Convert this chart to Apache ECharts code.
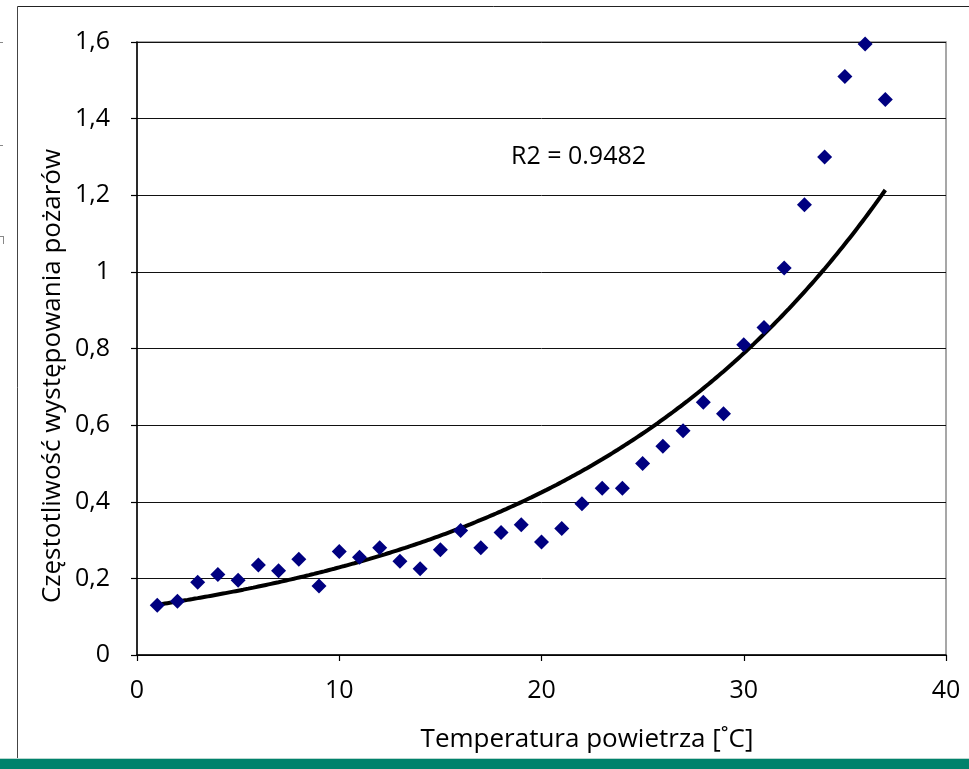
<!DOCTYPE html>
<html>
<head>
<meta charset="utf-8">
<script src="https://cdn.jsdelivr.net/npm/echarts@6/dist/echarts.min.js"></script>
<style>
  html, body { margin: 0; padding: 0; background: #fff; }
  #chart { width: 969px; height: 769px; }
</style>
</head>
<body>
<div id="chart"></div>
<script>
// Air temperature [°C] and fire occurrence frequency
const temperatures = [1, 2, 3, 4, 5, 6, 7, 8, 9, 10, 11, 12, 13, 14, 15, 16, 17, 18, 19,
  20, 21, 22, 23, 24, 25, 26, 27, 28, 29, 30, 31, 32, 33, 34, 35, 36, 37];
const frequencies = [0.13, 0.14, 0.19, 0.21, 0.195, 0.235, 0.22, 0.25, 0.18, 0.27, 0.255,
  0.28, 0.245, 0.225, 0.275, 0.325, 0.28, 0.32, 0.34, 0.295, 0.33, 0.395, 0.435, 0.435,
  0.50, 0.545, 0.585, 0.66, 0.63, 0.81, 0.855, 1.01, 1.175, 1.30, 1.51, 1.595, 1.45];
const yTicks = [0, 0.2, 0.4, 0.6, 0.8, 1, 1.2, 1.4, 1.6];
const xTicks = [0, 10, 20, 30, 40];
const r2Label = 'R2 = 0.9482';
const xTitle = 'Temperatura powietrza [˚C]';
const yTitle = 'Częstotliwość występowania pożarów';

// Exponential trend y = a * e^(b x), fitted by least squares on ln(y)
function expFit(xs, ys) {
  const n = xs.length;
  let sx = 0, sy = 0, sxx = 0, sxy = 0;
  for (let i = 0; i < n; i++) {
    const ly = Math.log(ys[i]);
    sx += xs[i]; sy += ly; sxx += xs[i] * xs[i]; sxy += xs[i] * ly;
  }
  const b = (n * sxy - sx * sy) / (n * sxx - sx * sx);
  const a = Math.exp((sy - b * sx) / n);
  return { a, b };
}
const fit = expFit(temperatures, frequencies);
const trend = [];
const x0 = temperatures[0], x1 = temperatures[temperatures.length - 1];
for (let x = x0; x <= x1 + 1e-9; x += 0.25) {
  trend.push([x, fit.a * Math.exp(fit.b * x)]);
}

const font = 'Open Sans';
const fs = 25;
const chart = echarts.init(document.getElementById('chart'));
chart.setOption({
  animation: false,
  backgroundColor: '#fff',
  grid: {
    left: 137, right: 23, top: 42, bottom: 114,
    show: true, borderColor: '#8a8a8a', borderWidth: 1.5, backgroundColor: 'transparent'
  },
  xAxis: {
    type: 'value', min: 0, max: 40, interval: 10,
    axisLine: { show: true, lineStyle: { color: '#000', width: 1.5 } },
    axisTick: { show: true, length: 6, lineStyle: { color: '#000', width: 1.2 } },
    axisLabel: {
      margin: 23, fontFamily: font, fontSize: fs, color: '#000',
      formatter: v => xTicks.includes(v) ? String(v) : ''
    },
    splitLine: { show: false }
  },
  yAxis: {
    type: 'value', min: 0, max: 1.6, interval: 0.2,
    axisLine: { show: true, lineStyle: { color: '#000', width: 1.5 } },
    axisTick: { show: true, length: 6, inside: false, lineStyle: { color: '#000', width: 1.2 } },
    axisLabel: {
      margin: 27, fontFamily: font, fontSize: fs, color: '#000',
      formatter: v => {
        const t = yTicks.find(k => Math.abs(k - v) < 1e-9);
        return t === undefined ? '' : String(Math.round(t * 10) / 10).replace('.', ',');
      }
    },
    splitLine: { show: true, lineStyle: { color: '#111', width: 1 } }
  },
  graphic: [
    // page frame and bottom band
    { type: 'line', shape: { x1: 17.5, y1: 6.5, x2: 969, y2: 6.5 }, style: { stroke: '#222', lineWidth: 1 } },
    { type: 'line', shape: { x1: 17.5, y1: 6.5, x2: 17.5, y2: 769 }, style: { stroke: '#444', lineWidth: 1 } },
    { type: 'rect', shape: { x: 0, y: 759, width: 969, height: 10 }, style: { fill: '#00826c' } },
    { type: 'rect', shape: { x: 0, y: 758, width: 969, height: 1 }, style: { fill: '#b8d8d0' } },
    // small marks at the left page margin
    { type: 'line', shape: { x1: 0, y1: 42.5, x2: 3, y2: 42.5 }, style: { stroke: '#888', lineWidth: 1 } },
    { type: 'line', shape: { x1: 0, y1: 145.5, x2: 3, y2: 145.5 }, style: { stroke: '#888', lineWidth: 1 } },
    { type: 'line', shape: { x1: 0, y1: 236.5, x2: 4, y2: 236.5 }, style: { stroke: '#888', lineWidth: 1 } },
    { type: 'line', shape: { x1: 3.5, y1: 236, x2: 3.5, y2: 244 }, style: { stroke: '#888', lineWidth: 1 } },
    // axis titles
    {
      type: 'text', x: 53, y: 376, rotation: Math.PI / 2,
      style: {
        text: yTitle, fontFamily: font, fontSize: 26, fill: '#000',
        align: 'center', verticalAlign: 'middle'
      }
    },
    {
      type: 'text', x: 587, y: 740,
      style: {
        text: xTitle, fontFamily: font, fontSize: 26, fill: '#000',
        align: 'center', verticalAlign: 'middle'
      }
    },
    // coefficient of determination
    {
      type: 'text', x: 511, y: 157,
      style: {
        text: r2Label, fontFamily: font, fontSize: fs, fill: '#000',
        align: 'left', verticalAlign: 'middle'
      }
    }
  ],
  series: [
    {
      type: 'line',
      data: trend,
      smooth: true,
      showSymbol: false,
      lineStyle: { color: '#000', width: 4 },
      z: 3
    },
    {
      type: 'scatter',
      data: temperatures.map((t, i) => [t, frequencies[i]]),
      symbol: 'diamond',
      symbolSize: [15, 15],
      itemStyle: { color: '#000080', opacity: 1 },
      z: 4
    }
  ]
});
</script>
</body>
</html>
